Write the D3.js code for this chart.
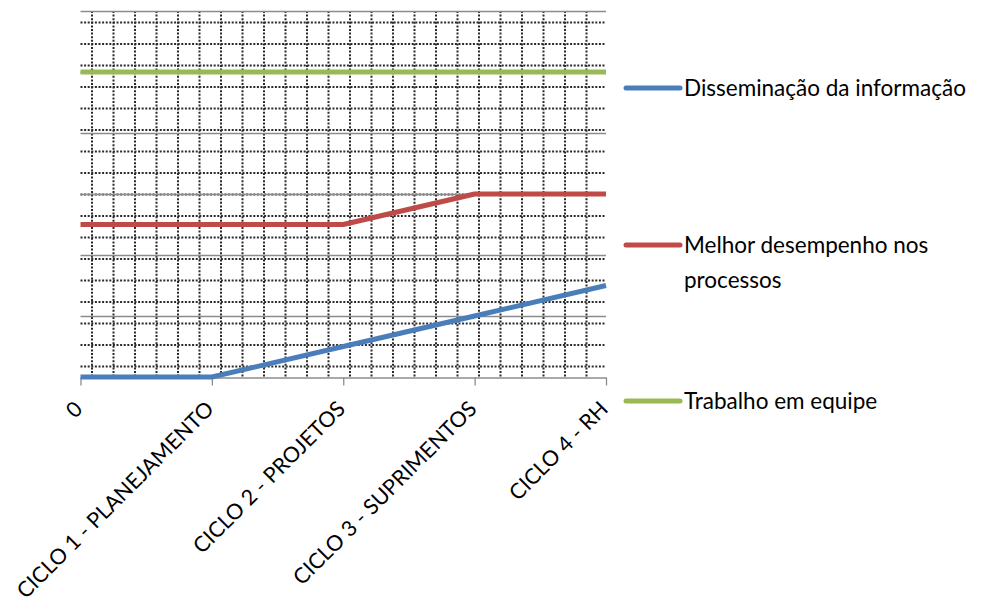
<!DOCTYPE html>
<html><head><meta charset="utf-8">
<script src="https://cdn.jsdelivr.net/npm/d3@7"></script>
<style>body{margin:0;background:#fff}svg{display:block}text{font-family:Lato,"Open Sans",sans-serif;fill:#000}</style>
</head><body>
<svg id="c" width="1003" height="610"></svg>
<script>
const categories = ["0","CICLO 1 - PLANEJAMENTO","CICLO 2 - PROJETOS","CICLO 3 - SUPRIMENTOS","CICLO 4 - RH"];
const seriesNames = ["Disseminação da informação","Melhor desempenho nos processos","Trabalho em equipe"];
const dissemValues = [0,0,0.5,1,1.5];
const melhorValues = [2.5,2.5,2.5,3,3];
const trabalhoValues = [5,5,5,5,5];
const yTicks = [0,1,2,3,4,5,6];
const colors = ["#4A7EBB","#BE4B48","#98B954"];

const svg = d3.select("#c");
const L=80.5, R=606, T=11, B=377;
const x = d3.scalePoint().domain(categories).range([L,R]);
const y = d3.scaleLinear().domain([0,6]).range([B,T]);

// dotted pattern grid
const g = svg.append("g");
const step = 21.5;
d3.range(B-10.5, T, -step).forEach(v=>{
  g.append("line").attr("x1",L).attr("x2",R).attr("y1",v).attr("y2",v)
   .attr("stroke","#2a2a2a").attr("stroke-width",2).attr("stroke-dasharray","2 1.6");
});
d3.range(L+11.5, R, step).forEach(v=>{
  g.append("line").attr("y1",T).attr("y2",B).attr("x1",v).attr("x2",v)
   .attr("stroke","#2a2a2a").attr("stroke-width",2).attr("stroke-dasharray","2 1.6");
});
// major gridlines
svg.append("g").selectAll("line").data(yTicks.slice(1)).join("line")
  .attr("x1",L).attr("x2",R).attr("y1",d=>Math.round(y(d))+0.5).attr("y2",d=>Math.round(y(d))+0.5)
  .attr("stroke","#8c8c8c").attr("stroke-width",1.3);

// x axis
const xAxis = svg.append("g").attr("transform",`translate(0,${B+0.5})`)
  .call(d3.axisBottom(x).tickSize(8).tickSizeOuter(0).tickFormat(""));
xAxis.select(".domain").attr("stroke","#8c8c8c").attr("stroke-width",1.3);
xAxis.selectAll(".tick line").attr("stroke","#8c8c8c").attr("stroke-width",1.3);
svg.append("g").selectAll("text").data(categories).join("text")
  .attr("transform",d=>`translate(${x(d)-2},${405}) rotate(-45)`)
  .attr("text-anchor","end").attr("dy","0.35em").attr("font-size",21.5).text(d=>d);

// lines
const allSeries=[dissemValues,melhorValues,trabalhoValues];
const line = d3.line().x((d,i)=>x(categories[i])).y(d=>y(d));
allSeries.forEach((s,k)=>{
  svg.append("path").datum(s).attr("d",line).attr("fill","none")
    .attr("stroke",colors[k]).attr("stroke-width",5).attr("stroke-linejoin","round");
});

// legend
const legY=[88,245,401];
const leg = svg.append("g");
seriesNames.forEach((n,k)=>{
  leg.append("line").attr("x1",626).attr("x2",680).attr("y1",legY[k]).attr("y2",legY[k])
    .attr("stroke",colors[k]).attr("stroke-width",5).attr("stroke-linecap","round");
  const t=leg.append("text").attr("x",684).attr("y",legY[k]).attr("dy","0.35em").attr("font-size",22.5);
  if(k===1){
    t.append("tspan").attr("x",684).text("Melhor desempenho nos");
    t.append("tspan").attr("x",684).attr("dy","1.55em").text("processos");
  } else t.text(n);
});
</script>
</body></html>
